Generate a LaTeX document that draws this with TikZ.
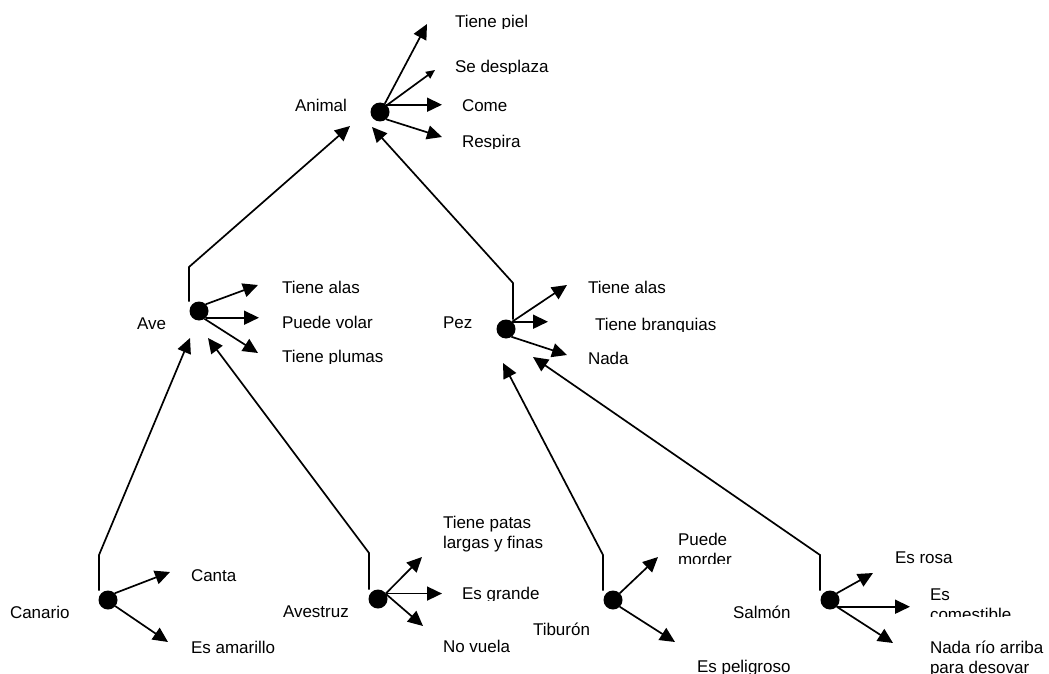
\documentclass[tikz,border=0pt]{standalone}
\usepackage{fontspec}
\setmainfont{Liberation Sans}
\usetikzlibrary{arrows.meta}
\begin{document}
\begin{tikzpicture}[x=1pt,y=-1pt,
  every node/.style={inner sep=0pt, outer sep=0pt},
  lbl/.style={anchor=base west, font=\fontsize{17}{20}\selectfont, align=left},
  dot/.style={circle, fill=black, minimum size=19pt},
  link/.style={line width=1.7pt, -{Triangle[length=15pt,width=14pt]}},
]
\useasboundingbox (0,0) rectangle (1049,674);

% class dots
\node[dot] (animal)   at (380,112) {};
\node[dot] (ave)      at (199,311) {};
\node[dot] (pez)      at (506,329) {};
\node[dot] (canario)  at (108,600) {};
\node[dot] (avestruz) at (378,599) {};
\node[dot] (tiburon)  at (613,600) {};
\node[dot] (salmon)   at (830,600) {};

% class names
\node[lbl] (tAnimal)   at (295,112) {Animal};
\node[lbl] (tAve)      at (137,329) {Ave};
\node[lbl] (tPez)      at (443,328) {Pez};
\node[lbl] (tCanario)  at (10,618)  {Canario};
\node[lbl] (tAvestruz) at (283,617) {Avestruz};
\node[lbl] (tTiburon)  at (533,635) {Tiburón};
\node[lbl] (tSalmon)   at (733,618) {Salmón};

% properties (text boxes that cut off their lowest strip are clipped)
\begin{scope}\clip (440,0) rectangle (600,29);
\node[lbl] (pPiel)   at (455,28)  {Tiene piel};\end{scope}
\begin{scope}\clip (440,40) rectangle (600,74);
\node[lbl] (pDespl)  at (455,73)  {Se desplaza};\end{scope}
\node[lbl] (pCome)   at (462,112) {Come};
\begin{scope}\clip (440,120) rectangle (600,148);
\node[lbl] (pResp)   at (462,147) {Respira};\end{scope}

\node[lbl] (pAlasA)  at (282,293) {Tiene alas};
\node[lbl] (pVolar)  at (282,328) {Puede volar};
\begin{scope}\clip (270,335) rectangle (420,363);
\node[lbl] (pPlumas) at (282,362) {Tiene plumas};\end{scope}

\node[lbl] (pAlasP)  at (588,293) {Tiene alas};
\begin{scope}\clip (580,300) rectangle (760,331);
\node[lbl] (pBranq)  at (595,330) {Tiene branquias};\end{scope}
\node[lbl] (pNada)   at (588,364) {Nada};

\node[lbl] (pCanta)  at (191,581) {Canta};
\node[lbl] (pAmar)   at (191,653) {Es amarillo};

\node[lbl] (pPatas)  at (443,548) {Tiene patas\\largas y finas};
\begin{scope}\clip (450,570) rectangle (560,600);
\node[lbl] (pGrande) at (462,599) {Es grande};\end{scope}
\begin{scope}\clip (430,625) rectangle (540,653);
\node[lbl] (pNoVue)  at (443,652) {No vuela};\end{scope}

\begin{scope}\clip (670,520) rectangle (760,563);
\node[lbl] (pMorder) at (678,565) {Puede\\morder};\end{scope}
\node[lbl] (pPelig)  at (697,672) {Es peligroso};

\node[lbl] (pRosa)   at (895,563) {Es rosa};
\begin{scope}\clip (920,570) rectangle (1040,616);
\node[lbl] (pComest) at (930,620) {Es\\comestible};\end{scope}
\node[lbl] (pRio)    at (930,673) {Nada río arriba\\para desovar};

% arrow tips and bends
\coordinate (anin1)   at (350,126);
\coordinate (anin2)   at (372,127);
\coordinate (avebend) at (189,267);
\coordinate (pezbend) at (513,283);
\coordinate (avein1)  at (190,338);
\coordinate (avein2)  at (208,338);
\coordinate (pezin1)  at (503,363);
\coordinate (pezin2)  at (533,357);
\coordinate (canbend) at (99,555);
\coordinate (avsbend) at (369,553);
\coordinate (tibbend) at (603,555);
\coordinate (salbend) at (820,555);

\coordinate (aPiel)   at (427,24);
\coordinate (aDespl)  at (435,70);
\coordinate (aCome)   at (442,104);
\coordinate (aResp)   at (442,137);
\coordinate (aAlasA)  at (258,285);
\coordinate (aVolar)  at (259,320);
\coordinate (aPlumas) at (258,353);
\coordinate (aAlasP)  at (567,285);
\coordinate (aBranq)  at (548,320);
\coordinate (aNada)   at (567,355);
\coordinate (aCanta)  at (170,572);
\coordinate (aAmar)   at (168,642);
\coordinate (aPatas)  at (422,557);
\coordinate (aGrande) at (442,591);
\coordinate (aNoVue)  at (423,626);
\coordinate (aMorder) at (658,557);
\coordinate (aPelig)  at (675,642);
\coordinate (aRosa)   at (873,573);
\coordinate (aComest) at (910,608);
\coordinate (aRio)    at (893,643);

% inheritance links
\draw[link] (avebend |- ave.north) -- (avebend) -- (anin1);
\draw[link] (pezbend |- pez.north) -- (pezbend) -- (anin2);
\draw[link] (canbend |- canario.north) -- (canbend) -- (avein1);
\draw[link] (avsbend |- avestruz.north) -- (avsbend) -- (avein2);
\draw[link] (tibbend |- tiburon.north) -- (tibbend) -- (pezin1);
\draw[link] (salbend |- salmon.north) -- (salbend) -- (pezin2);

% property arrows
\draw[link] (animal.60) -- (aPiel);
\draw[link, -{Triangle[length=9pt,width=8pt]}] (animal.45) -- (aDespl);
\draw[link] (animal.50) -- (animal.50 -| aCome);
\draw[link] (animal.-50) -- (aResp);
\draw[link] (ave.45) -- (aAlasA);
\draw[link] (ave.-45) -- (ave.-45 -| aVolar);
\draw[link] (ave.-55) -- (aPlumas);
\draw[link] (pez.50) -- (aAlasP);
\draw[link] (pez.50) -- (pez.50 -| aBranq);
\draw[link] (pez.-55) -- (aNada);
\draw[link] (canario.45) -- (aCanta);
\draw[link] (canario.-40) -- (aAmar);
\draw[link] (avestruz.35) -- (aPatas);
\draw[link] (avestruz.35) -- (avestruz.35 -| aGrande);
\draw[link] (avestruz.30) -- (aNoVue);
\draw[link] (tiburon.45) -- (aMorder);
\draw[link] (tiburon.-45) -- (aPelig);
\draw[link] (salmon.45) -- (aRosa);
\draw[link] (salmon.-45) -- (salmon.-45 -| aComest);
\draw[link] (salmon.-45) -- (aRio);
\end{tikzpicture}
\end{document}
